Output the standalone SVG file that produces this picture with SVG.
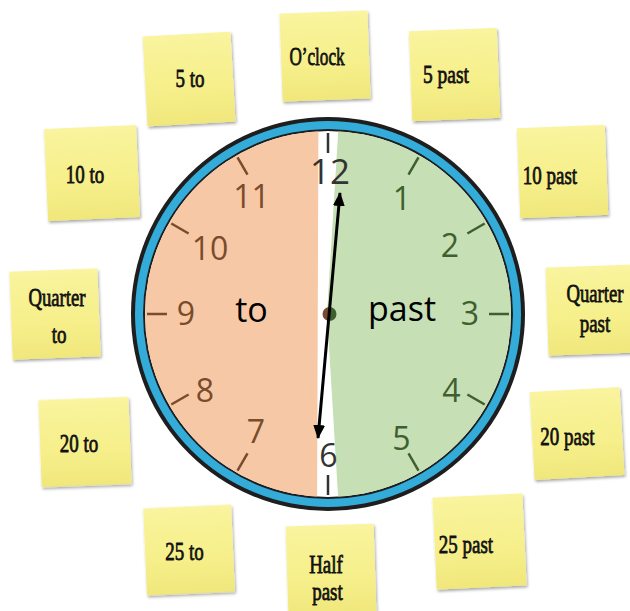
<svg xmlns="http://www.w3.org/2000/svg" width="630" height="611" viewBox="0 0 630 611">
<defs>
<linearGradient id="ng" x1="0" y1="0" x2="0" y2="1">
<stop offset="0" stop-color="#f9f49e"/>
<stop offset="0.6" stop-color="#f6ef8a"/>
<stop offset="1" stop-color="#f0e77c"/>
</linearGradient>
<filter id="sh" x="-20%" y="-20%" width="140%" height="140%">
<feDropShadow dx="1" dy="2" stdDeviation="1.6" flood-color="#000" flood-opacity="0.35"/>
</filter>
<clipPath id="face"><circle cx="328" cy="314" r="183"/></clipPath>
<marker id="ah" markerUnits="userSpaceOnUse" markerWidth="14" markerHeight="12" refX="13" refY="6" orient="auto-start-reverse">
<path d="M0,0 L14,6 L0,12 z" fill="#000"/>
</marker>
</defs>
<style>
.note{fill:url(#ng);filter:url(#sh)}
.nt{font-family:"Liberation Serif",serif;font-size:26px;fill:#111;text-anchor:middle;stroke:#111;stroke-width:0.8}
.num{font-family:"Open Sans","Liberation Sans",sans-serif;font-size:32px;text-anchor:middle}
.l{fill:#7a4b2c}
.r{fill:#3f5f2f}
.c{fill:#333}
.tl{stroke:#7a4b2c;stroke-width:2.5}
.tr{stroke:#3f5f2f;stroke-width:2.5}
.tc{stroke:#333;stroke-width:2.5}
.big{font-family:"Open Sans","Liberation Sans",sans-serif;font-size:34px;fill:#000;text-anchor:middle}
</style>
<rect width="630" height="611" fill="#fff"/>

<g id="note-oclock"><rect class="note" x="-44" y="-44" width="88" height="88" transform="translate(325,56) rotate(-2.1)"/><text class="nt" transform="translate(317,65) scale(0.66,1)">O’clock</text></g>
<g id="note-5to"><rect class="note" x="-44" y="-45" width="88" height="90" transform="translate(189,79) rotate(-3.2)"/><text class="nt" transform="translate(190,87) scale(0.73,1)">5 to</text></g>
<g id="note-5past"><rect class="note" x="-44" y="-45" width="88" height="90" transform="translate(454.5,74.5) rotate(-2.2)"/><text class="nt" transform="translate(446,83) scale(0.75,1)">5 past</text></g>
<g id="note-10to"><rect class="note" x="-46" y="-46" width="92" height="92" transform="translate(92,173) rotate(-2.5)"/><text class="nt" transform="translate(85,183) scale(0.73,1)">10 to</text></g>
<g id="note-10past"><rect class="note" x="-44" y="-45" width="88" height="90" transform="translate(562.5,171.5) rotate(-2.2)"/><text class="nt" transform="translate(550,184) scale(0.73,1)">10 past</text></g>
<g id="note-quarterto"><rect class="note" x="-44" y="-44" width="88" height="88" transform="translate(55,314) rotate(-2.2)"/><text class="nt" transform="translate(57,306) scale(0.72,1)">Quarter</text><text class="nt" transform="translate(59,343) scale(0.73,1)">to</text></g>
<g id="note-quarterpast"><rect class="note" x="-45" y="-44" width="90" height="88" transform="translate(592,310) rotate(-2)"/><text class="nt" transform="translate(595,302) scale(0.72,1)">Quarter</text><text class="nt" transform="translate(595,332) scale(0.73,1)">past</text></g>
<g id="note-20to"><rect class="note" x="-45" y="-43.5" width="90" height="87" transform="translate(85,442) rotate(-2.1)"/><text class="nt" transform="translate(79,452) scale(0.73,1)">20 to</text></g>
<g id="note-20past"><rect class="note" x="-45" y="-44" width="90" height="88" transform="translate(577,433.5) rotate(-3.2)"/><text class="nt" transform="translate(567.5,445) scale(0.73,1)">20 past</text></g>
<g id="note-25to"><rect class="note" x="-44" y="-43.5" width="88" height="87" transform="translate(189,550) rotate(-2.5)"/><text class="nt" transform="translate(184.5,560) scale(0.73,1)">25 to</text></g>
<g id="note-halfpast"><rect class="note" x="-44" y="-45" width="88" height="90" transform="translate(331,570) rotate(-1.8)"/><text class="nt" transform="translate(326,573) scale(0.73,1)">Half</text><text class="nt" transform="translate(327.5,600) scale(0.73,1)">past</text></g>
<g id="note-25past"><rect class="note" x="-45" y="-46" width="90" height="92" transform="translate(479.5,541.5) rotate(-2.7)"/><text class="nt" transform="translate(466,553) scale(0.73,1)">25 past</text></g>

<g id="clock">
<circle cx="328" cy="314" r="197" fill="#1e1e1e"/>
<circle cx="328" cy="314" r="193" fill="#33acd9"/>
<circle cx="328" cy="314" r="185" fill="#1e1e1e"/>
<circle cx="328" cy="314" r="183" fill="#fff"/>
<g clip-path="url(#face)">
<polygon points="100,100 318.5,100 317,530 100,530" fill="#f6c8a6"/>
<polygon points="338.5,100 338,135 327,314 338,495 338.5,530 560,530 560,100" fill="#c6dfb5"/>
</g>
<line class="tc" x1="328" y1="153" x2="328" y2="133"/>
<line class="tr" x1="408.5" y1="174.6" x2="418.5" y2="157.3"/>
<line class="tr" x1="467.4" y1="233.5" x2="484.7" y2="223.5"/>
<line class="tr" x1="489" y1="314" x2="509" y2="314"/>
<line class="tr" x1="467.4" y1="394.5" x2="484.7" y2="404.5"/>
<line class="tr" x1="408.5" y1="453.4" x2="418.5" y2="470.7"/>
<line class="tc" x1="328" y1="475" x2="328" y2="495"/>
<line class="tl" x1="247.5" y1="453.4" x2="237.5" y2="470.7"/>
<line class="tl" x1="188.6" y1="394.5" x2="171.3" y2="404.5"/>
<line class="tl" x1="167" y1="314" x2="147" y2="314"/>
<line class="tl" x1="188.6" y1="233.5" x2="171.3" y2="223.5"/>
<line class="tl" x1="247.5" y1="174.6" x2="237.5" y2="157.3"/>
<text class="num c" x="330" y="184" style="font-size:35px">12</text>
<text class="num r" x="402" y="209.5">1</text>
<text class="num r" x="450" y="256.5">2</text>
<text class="num r" x="470" y="324.5">3</text>
<text class="num r" x="451.5" y="401.5">4</text>
<text class="num r" x="401.5" y="449.5">5</text>
<text class="num c" x="328.5" y="466.5">6</text>
<text class="num l" x="256" y="443">7</text>
<text class="num l" x="205" y="401.5">8</text>
<text class="num l" x="186" y="324.5">9</text>
<text class="num l" x="210" y="259.5">10</text>
<text class="num l" x="251.5" y="208">11</text>
<text class="big" x="251.5" y="322">to</text>
<text class="big" x="402" y="321">past</text>
<path d="M329.5,307 A7,7 0 0 0 329.5,321 z" fill="#7a4b2c"/>
<path d="M329.5,307 A7,7 0 0 1 329.5,321 z" fill="#3f5f2f"/>
</g>
<g id="connectors">
<line x1="340" y1="193" x2="318" y2="438" stroke="#000" stroke-width="3" marker-start="url(#ah)" marker-end="url(#ah)"/>
</g>
</svg>
